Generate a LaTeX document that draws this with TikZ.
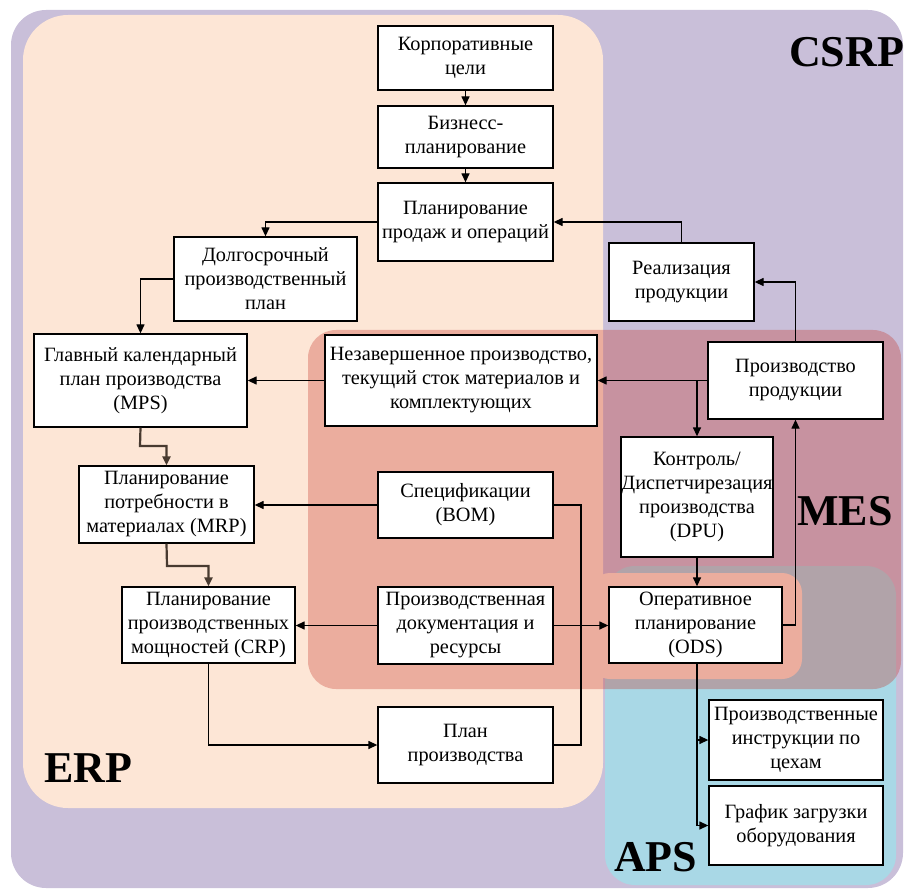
\documentclass[tikz,border=0pt]{standalone}
\usepackage{fontspec}
\setmainfont{Liberation Serif}
\usetikzlibrary{arrows.meta,calc}
\definecolor{csrpc}{HTML}{C9BFD9}
\definecolor{erpc}{HTML}{FDE6D6}
\definecolor{apsc}{HTML}{A9D8E6}
\definecolor{mesc}{RGB}{196,48,36}
\definecolor{thkc}{RGB}{72,58,48}
\newcommand\mybox[6]{\node[box,minimum width=#4pt,minimum height=#5pt] (#1) at (#2,#3) {#6};}
\begin{document}
\begin{tikzpicture}[x=1pt,y=-1pt,
  box/.style={draw=black, line width=1.3pt, fill=white, inner sep=0pt, align=center,
    font=\fontsize{20.3}{24}\selectfont},
  arr/.style={line width=1.3pt, -{Triangle[length=9pt,width=8pt]}},
  ln/.style={line width=1.3pt},
  thk/.style={line width=2.2pt, draw=thkc, -{Triangle[length=9pt,width=8pt]}},
  big/.style={font=\fontsize{44}{44}\selectfont\bfseries, inner sep=0pt, anchor=base west}]
\useasboundingbox (0,0) rectangle (905,893);
% regions
\fill[csrpc, rounded corners=35pt] (11,10) rectangle (903,888);
\fill[erpc, rounded corners=45pt] (23,15) rectangle (603,808);
\fill[apsc, rounded corners=30pt] (605,566) rectangle (896,885);
\fill[erpc, rounded corners=20pt] (590,573) rectangle (802,679);
\fill[mesc, opacity=0.31, rounded corners=28pt] (308,330) rectangle (901,689);
% labels
\node[big] (csrp) at (789,67) {CSRP};
\node[big] (mes) at (797,525) {MES};
\node[big] (erp) at (44,782) {ERP};
\node[big] (aps) at (614,871) {APS};
% boxes
\mybox{korp}{465.5}{58}{175}{64}{Корпоративные\\цели}
\mybox{biz}{465.5}{137}{175}{62}{Бизнесс-\\планирование}
\mybox{sop}{465.5}{222}{175}{78}{Планирование\\продаж и операций}
\mybox{dolg}{265.5}{279}{183}{84}{Долгосрочный\\производственный\\план}
\mybox{real}{681.5}{282}{145}{78}{Реализация\\продукции}
\mybox{mps}{140.5}{380.5}{213}{93}{Главный календарный\\план производства\\(MPS)}
\mybox{nzp}{461}{380.5}{272}{91}{Незавершенное производство,\\текущий сток материалов и\\комплектующих}
\mybox{proizv}{795.5}{380.5}{175}{77}{Производство\\продукции}
\mybox{mrp}{166.5}{504.5}{175}{77}{Планирование\\потребности в\\материалах (MRP)}
\mybox{bom}{465.5}{505}{175}{66}{Спецификации\\(BOM)}
\mybox{dpu}{697}{497}{152}{120}{Контроль/\\Диспетчирезация\\производства\\(DPU)}
\mybox{crp}{208.5}{625}{173}{76}{Планирование\\производственных\\мощностей (CRP)}
\mybox{doc}{465.5}{625.5}{175}{77}{Производственная\\документация и\\ресурсы}
\mybox{ods}{695.5}{625}{173}{76}{Оперативное\\планирование\\(ODS)}
\mybox{plan}{465.5}{745}{175}{76}{План\\производства}
\mybox{instr}{796}{740}{174}{80}{Производственные\\инструкции по\\цехам}
\mybox{graf}{796}{825.5}{174}{79}{График загрузки\\оборудования}
% helper coordinates
\coordinate (bomR) at (581,505);
\coordinate (odsB) at (697,663);
\coordinate (odsI) at (697,740);
\coordinate (mpsB) at (140,446);
\coordinate (mrpB) at (167,566);
% connectors
\draw[arr] (korp.south) -- (biz.north);
\draw[arr] (biz.south) -- (sop.north);
\draw[arr] (sop.west) -| (dolg.north);
\draw[arr] (dolg.west) -| (mps.north);
\draw[arr] (real.north) |- (sop.east);
\draw[arr] (proizv.north) |- (real.east);
\draw[arr] (proizv.west) -- (nzp.east);
\draw[arr] (dpu.north |- proizv.west) -- (dpu.north);
\draw[arr] (nzp.west) -- (mps.east);
\draw[thk] (mps.south) -- (mpsB) -| (mrp.north);
\draw[thk] (mrp.south) -- (mrpB) -| (crp.north);
\draw[arr] (bom.west) -- (mrp.east |- bom.west);
\draw[arr] (doc.west) -- (crp.east |- doc.west);
\draw[arr] (crp.south) |- (plan.west);
\draw[ln] (bom.east) -- (bomR) |- (plan.east);
\draw[arr] (doc.east) -- (ods.west |- doc.east);
\draw[arr] (dpu.south) -- (dpu.south |- ods.north);
\draw[arr] (ods.east) -| (proizv.south);
\draw[arr] (odsB) |- (graf.west);
\draw[arr] (odsI) -- (instr.west);
\end{tikzpicture}
\end{document}
